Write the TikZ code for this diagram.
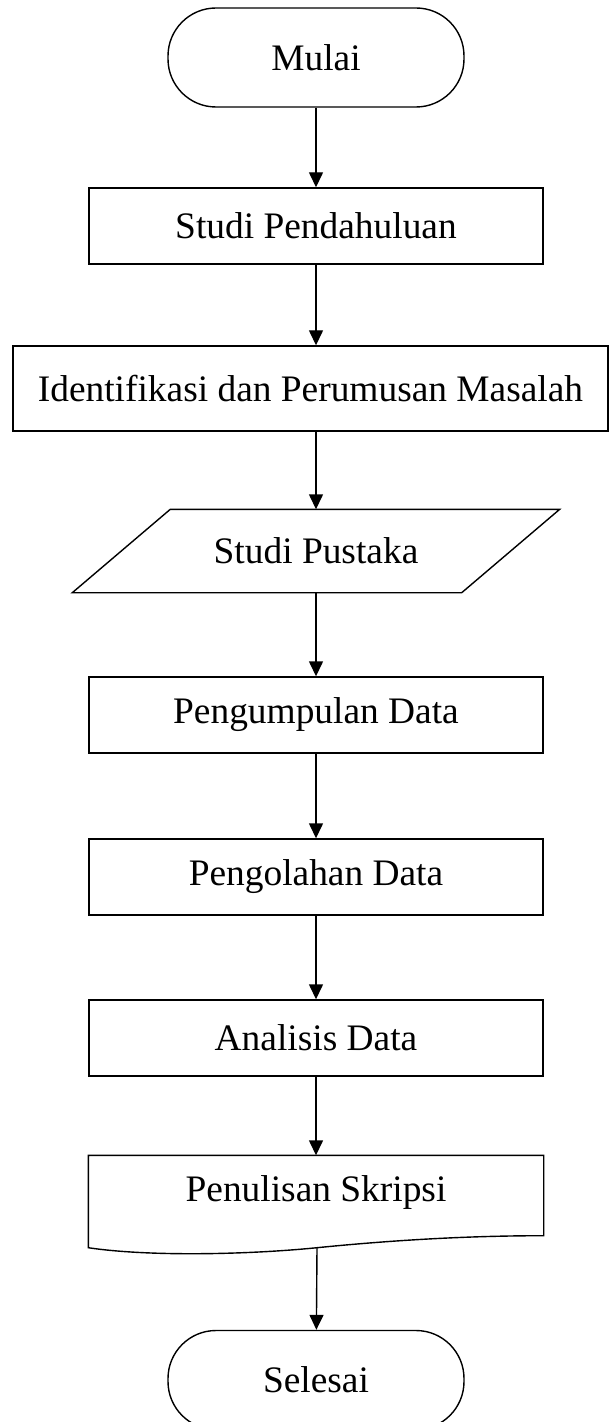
\documentclass[tikz,border=0pt]{standalone}
\usepackage{fontspec}
\setmainfont{Liberation Serif}
\usetikzlibrary{arrows.meta}
\usetikzlibrary{calc}

\begin{document}
\begin{tikzpicture}[x=0.5pt, y=-0.5pt, line width=0.7pt,
	every node/.style={font=\fontsize{18.7}{23}\selectfont, inner sep=0pt},
	terminal/.style={draw, rectangle, rounded corners=24pt, minimum width=148pt, minimum height=49.5pt},
	process/.style={draw, rectangle, minimum width=227pt, minimum height=38pt},
	flow/.style={-{Triangle[length=7.5pt, width=7pt]}}]
	\clip (0,0) rectangle (609,1422);
	
	\node[terminal] (mulai) at (316,57.5) {Mulai};
	\node[process] (pendahuluan) at (316,226) {Studi Pendahuluan};
	\node[process, minimum width=297.5pt, minimum height=42.5pt] (identifikasi) at (310.5,388.5) {Identifikasi dan Perumusan Masalah};
	\node[process, draw=none, minimum width=194pt, minimum height=41pt] (pustaka) at (316,551) {Studi Pustaka};
	\node[process] (pengumpulan) at (316,715) {Pengumpulan Data};
	\node[process] (pengolahan) at (316,877) {Pengolahan Data};
	\node[process] (analisis) at (316,1038) {Analisis Data};
	\node[process, draw=none, minimum height=36pt] (penulisan) at (316,1192) {Penulisan Skripsi};
	\node[terminal] (selesai) at (316,1380) {Selesai};
	
	% parallelogram
	\draw ($(pustaka.north west)+(49,0)$) -- ($(pustaka.north east)+(49,0)$)
		-- ($(pustaka.south east)+(-49,0)$) -- ($(pustaka.south west)+(-49,0)$) -- cycle;
	
	% document shape
	\draw (penulisan.north west) -- ($(penulisan.south west)+(0,19)$)
		.. controls +(60,9) and +(-70,7) .. ($(penulisan.south)+(1,19)$) coordinate (wavemid)
		.. controls +(70,-7) and +(-80,0) .. ($(penulisan.south east)+(0,7)$)
		-- (penulisan.north east) -- cycle;
	
	\draw[flow] (mulai) -- (pendahuluan);
	\draw[flow] (pendahuluan.south) -- (pendahuluan.south |- identifikasi.north);
	\draw[flow] (identifikasi.south -| pustaka.north) -- (pustaka.north);
	\draw[flow] (pustaka) -- (pengumpulan);
	\draw[flow] (pengumpulan) -- (pengolahan);
	\draw[flow] (pengolahan) -- (analisis);
	\draw[flow] (analisis) -- (penulisan);
	\draw[flow] (wavemid) -- (selesai);
\end{tikzpicture}
\end{document}
